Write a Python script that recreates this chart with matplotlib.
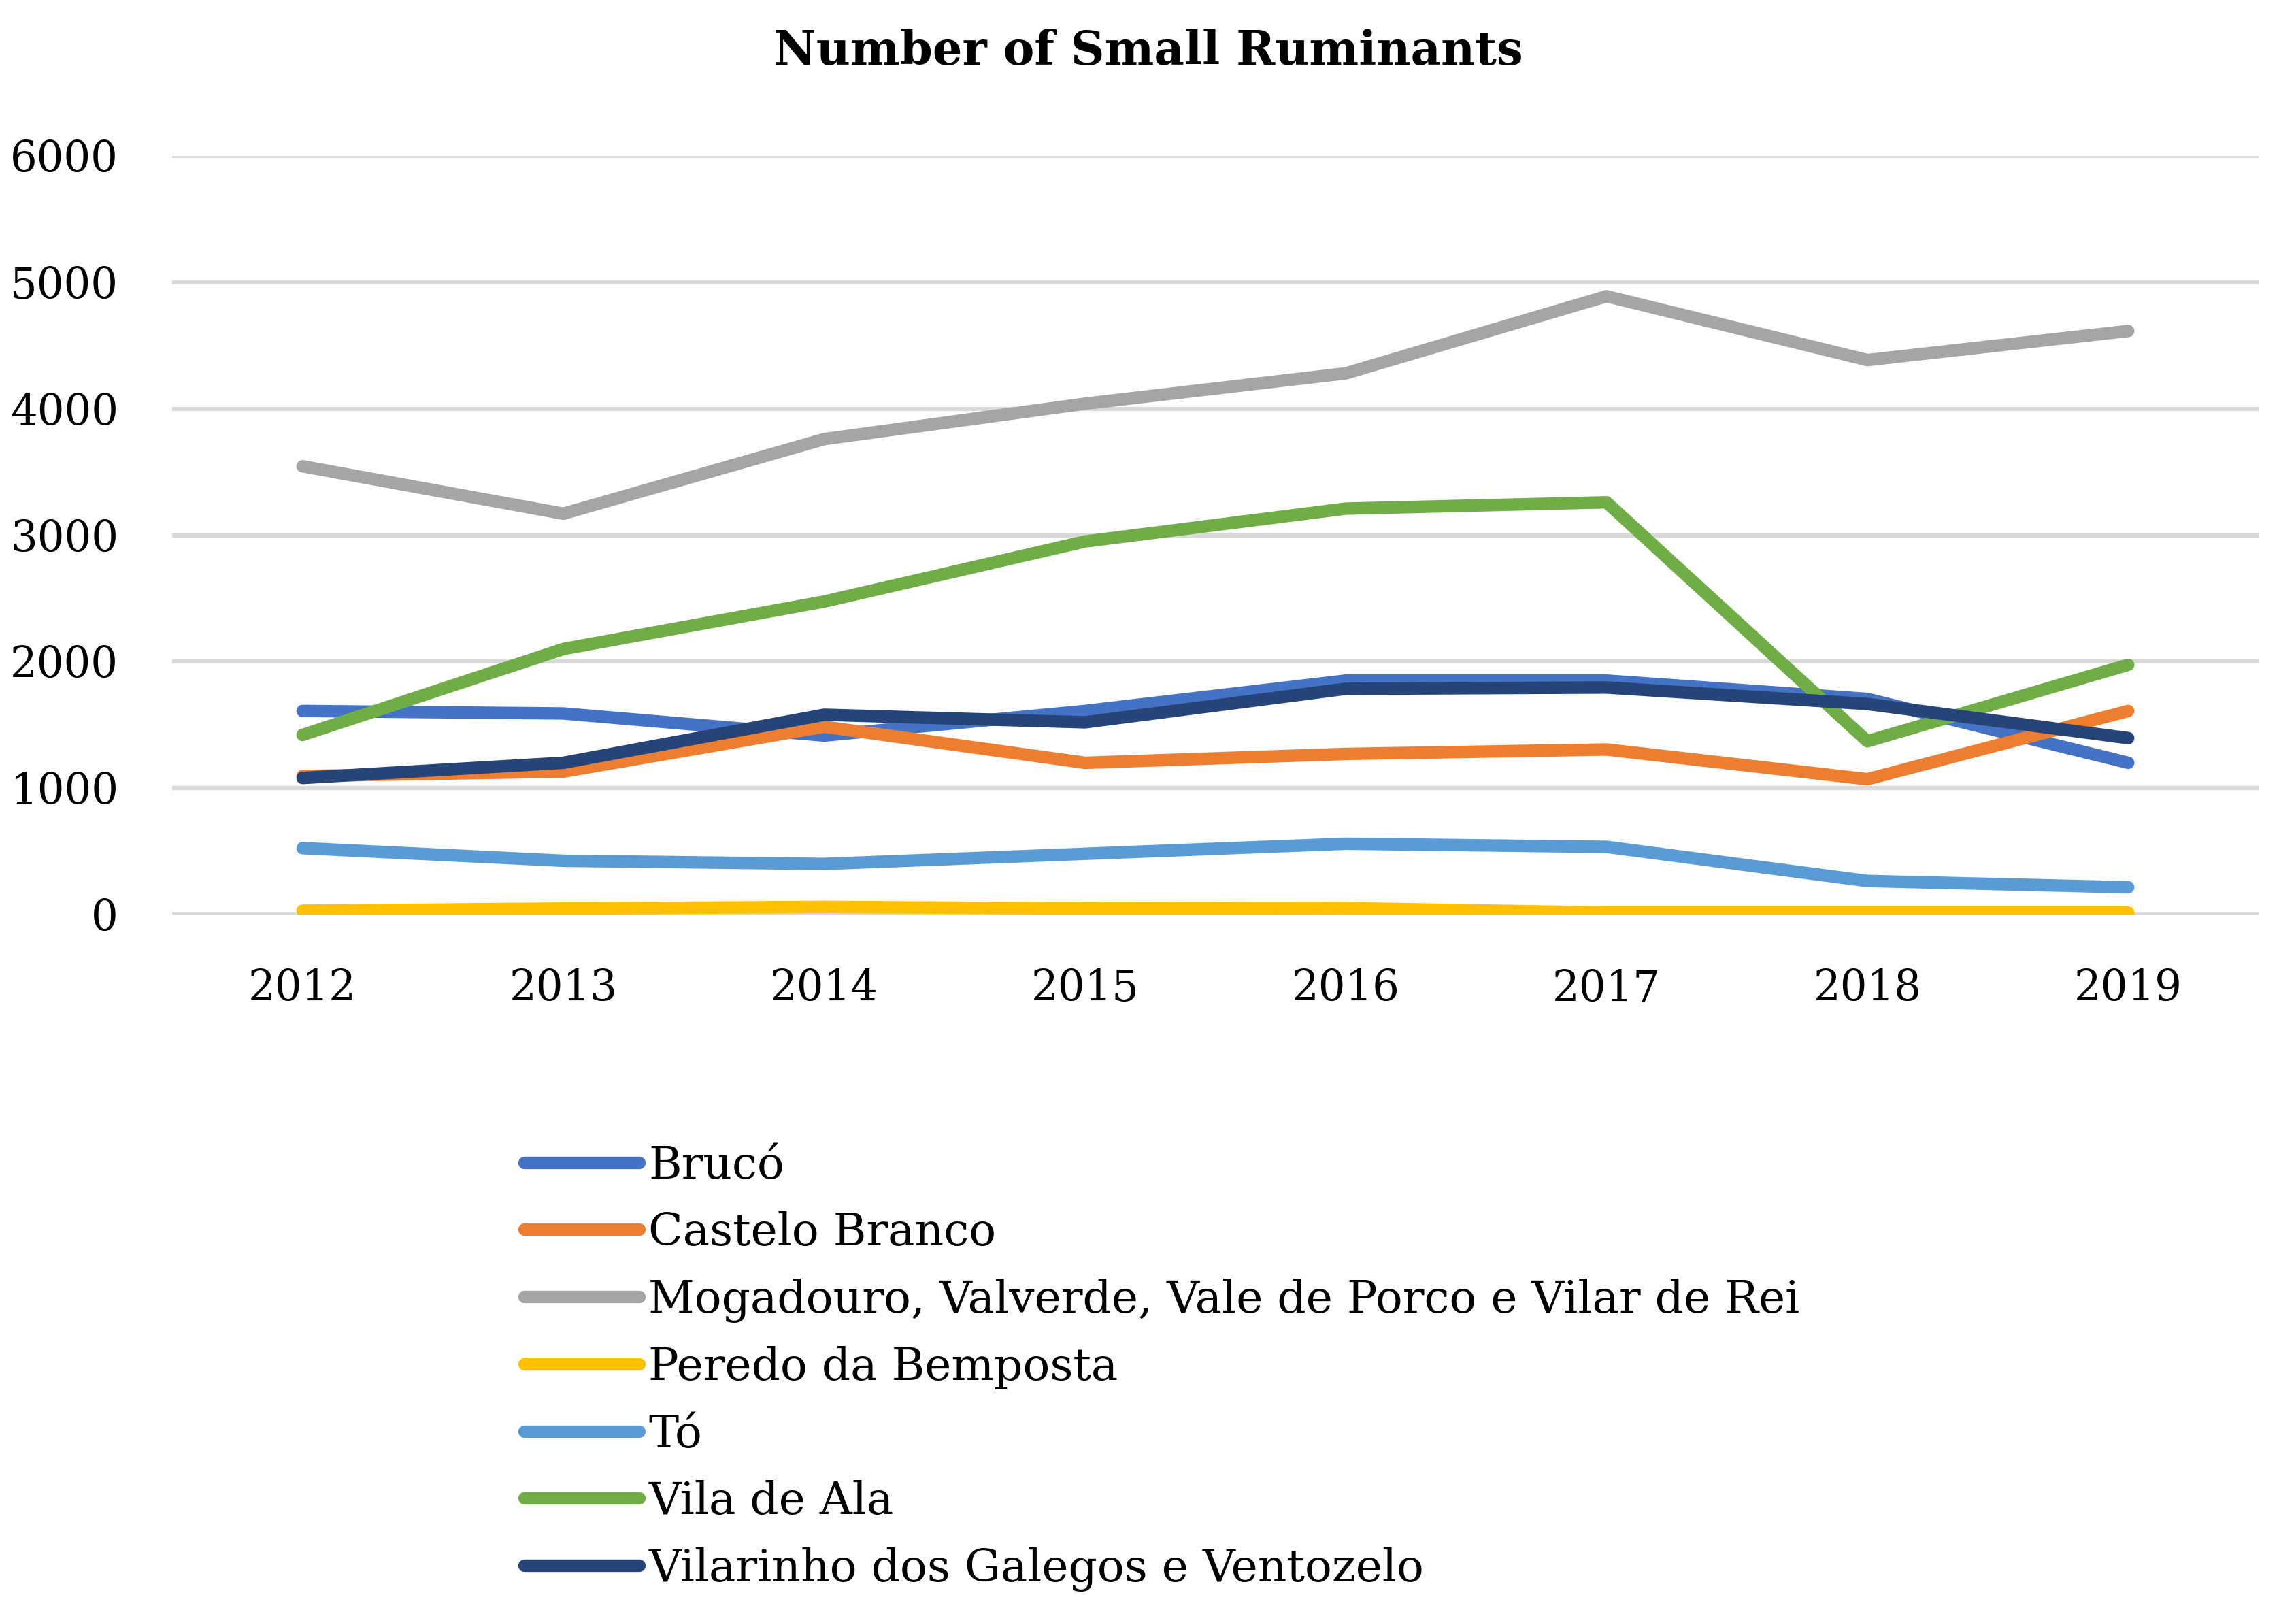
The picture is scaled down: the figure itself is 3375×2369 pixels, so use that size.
import matplotlib
matplotlib.use('Agg')
import matplotlib.pyplot as plt

# Chart data
years = ['2012', '2013', '2014', '2015', '2016', '2017', '2018', '2019']
bruco = [1610, 1590, 1415, 1610, 1850, 1850, 1705, 1200]
castelo_branco = [1095, 1130, 1485, 1200, 1270, 1305, 1070, 1610]
mogadouro = [3545, 3170, 3760, 4040, 4280, 4890, 4385, 4615]
peredo = [30, 47, 60, 47, 50, 15, 15, 15]
to = [525, 425, 400, 480, 560, 535, 265, 215]
vila_de_ala = [1420, 2100, 2475, 2950, 3210, 3260, 1370, 1975]
vilarinho = [1080, 1200, 1580, 1520, 1785, 1795, 1665, 1395]

names = ['Brucó', 'Castelo Branco',
         'Mogadouro, Valverde, Vale de Porco e Vilar de Rei',
         'Peredo da Bemposta', 'Tó', 'Vila de Ala',
         'Vilarinho dos Galegos e Ventozelo']
series = [bruco, castelo_branco, mogadouro, peredo, to, vila_de_ala, vilarinho]
colors = ['#4472C4', '#ED7D31', '#A5A5A5', '#FFC000', '#5B9BD5', '#70AD47', '#264478']

plt.rcParams['font.family'] = ['DejaVu Serif']

fig = plt.figure(figsize=(11.25, 2369 / 300), dpi=300)
ax = fig.add_axes([0.075, 0.4327, 0.9087, 0.4706])

x = list(range(len(years)))
for name, vals, c in zip(names, series, colors):
    ax.plot(x, vals, color=c, lw=4.4, solid_capstyle='round',
            solid_joinstyle='round', label=name)

ax.set_xlim(-0.5, len(years) - 0.5)
ax.set_ylim(0, 6000)
ax.set_yticks(range(0, 6001, 1000))
ax.set_xticks(x)
ax.set_xticklabels(years)
ax.grid(axis='y', color='#D9D9D9', lw=1.5)
ax.set_axisbelow(True)
for s in ax.spines.values():
    s.set_visible(False)
ax.tick_params(length=0, labelsize=15, pad=19)
ax.tick_params(axis='x', pad=19)

fig.text(0.5, 0.968, 'Number of Small Ruminants', ha='center', va='center',
         fontsize=16.5, fontweight='bold')

fig.legend(loc='upper left', bbox_to_anchor=(0.2285, 0.290), frameon=False,
           fontsize=15.9, handlelength=2.55, handletextpad=0.2,
           labelspacing=0.52, borderpad=0, borderaxespad=0)

fig.savefig('out.png', dpi=300)
